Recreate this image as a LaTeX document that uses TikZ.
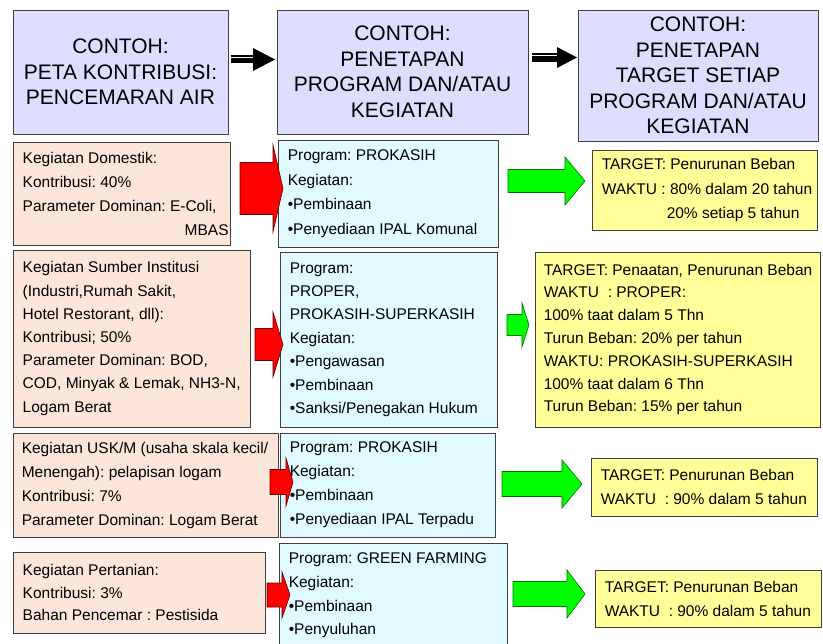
\documentclass[tikz,border=0pt]{standalone}
\usepackage{fontspec}
\setmainfont{Liberation Sans}
\frenchspacing
\definecolor{hdrc}{HTML}{DDDDFF}
\definecolor{pinkc}{HTML}{FCE6DA}
\definecolor{cyanc}{HTML}{E1FAFF}
\definecolor{yelc}{HTML}{FFFF99}
\definecolor{edgec}{HTML}{404040}
\newcommand\barrow[7]{% style, x0, xh, xt, yc, sh, hh
  \draw[#1] (#2,{#5-#6}) -- (#3,{#5-#6}) -- (#3,{#5-#7}) -- (#4,#5) -- (#3,{#5+#7}) -- (#3,{#5+#6}) -- (#2,{#5+#6}) -- cycle;}
\begin{document}
\frenchspacing
\begin{tikzpicture}[x=1pt,y=-1pt,
  box/.style={draw=edgec, line width=0.9pt, inner sep=0pt},
  hdr/.style={box, fill=hdrc, align=center, font={\fontsize{21}{25.5}\selectfont\frenchspacing}},
  pinkbox/.style={box, fill=pinkc},
  cyanbox/.style={box, fill=cyanc},
  yelbox/.style={box, fill=yelc},
  txt/.style={anchor=west, align=left, inner sep=0pt, font={\fontsize{15.5}{24}\selectfont\frenchspacing}},
  redarr/.style={fill=red, draw=black!60!red, line width=0.6pt},
  greenarr/.style={fill=green, draw=black!55!green, line width=0.6pt}]
\useasboundingbox (0,0) rectangle (823,644);
\clip (0,0) rectangle (823,644);
\fill[white] (0,0) rectangle (823,644);

% header row
\node[hdr, minimum width=215pt, minimum height=124pt] (h1) at (120.5,72) {CONTOH:\\PETA KONTRIBUSI:\\PENCEMARAN AIR};
\node[hdr, minimum width=251pt, minimum height=124pt] (h2) at (402.5,72) {CONTOH:\\PENETAPAN\\PROGRAM DAN/ATAU\\KEGIATAN};
\node[hdr, minimum width=240pt, minimum height=131pt] (h3) at (698,75.5) {CONTOH:\\PENETAPAN\\TARGET SETIAP\\PROGRAM DAN/ATAU\\KEGIATAN};

% black header arrows
\fill[black] (231,55) rectangle (254,63.5);
\fill[black] (253,48) -- (275,59.5) -- (253,71) -- cycle;
\draw[white, line width=0.8pt] (231,57.3) -- (253,57.3);
\fill[black] (532,53) rectangle (558,62);
\fill[black] (557,47) -- (577,57.5) -- (557,68) -- cycle;
\draw[white, line width=0.8pt] (532,55.3) -- (557,55.3);

% row 1
\node[pinkbox, minimum width=217pt, minimum height=103pt] (p1) at (121.5,193.5) {};
\node[txt] (p1t) at ([xshift=10pt]p1.west) {Kegiatan Domestik:\\Kontribusi: 40\%\\Parameter Dominan: E-Coli,\\\hspace*{162pt}MBAS};
\node[cyanbox, minimum width=220pt, minimum height=107pt] (c1) at (388,193.5) {};
\node[txt, font={\fontsize{15.5}{24.5}\selectfont\frenchspacing}] (c1t) at ([xshift=10pt]c1.west) {Program: PROKASIH\\Kegiatan:\\•Pembinaan\\•Penyediaan IPAL Komunal};
\node[yelbox, minimum width=225pt, minimum height=80pt] (y1) at (704.5,190) {};
\node[txt, font={\fontsize{15.5}{24.5}\selectfont\frenchspacing}] (y1t) at ([xshift=10pt]y1.west) {TARGET: Penurunan Beban\\WAKTU : 80\% dalam 20 tahun\\\hspace*{65pt}20\% setiap 5 tahun};

% row 2
\node[pinkbox, minimum width=237pt, minimum height=177pt] (p2) at (131.5,338.5) {};
\node[txt, font={\fontsize{15.5}{23.2}\selectfont\frenchspacing}] (p2t) at ([xshift=10pt]p2.west) {Kegiatan Sumber Institusi\\(Industri,Rumah Sakit,\\Hotel Restorant, dll):\\Kontribusi; 50\%\\Parameter Dominan: BOD,\\COD, Minyak \& Lemak, NH3-N,\\Logam Berat};
\node[cyanbox, minimum width=217pt, minimum height=175pt] (c2) at (388.5,339.5) {};
\node[txt, font={\fontsize{15.5}{23.4}\selectfont\frenchspacing}] (c2t) at ([xshift=10pt]c2.west) {Program:\\PROPER,\\PROKASIH-SUPERKASIH\\Kegiatan:\\•Pengawasan\\•Pembinaan\\•Sanksi/Penegakan Hukum};
\node[yelbox, minimum width=285pt, minimum height=175pt] (y2) at (677.5,339.5) {};
\node[txt, font={\fontsize{15.5}{22.8}\selectfont\frenchspacing}] (y2t) at ([xshift=9pt]y2.west) {TARGET: Penaatan, Penurunan Beban\\WAKTU~~: PROPER:\\100\% taat dalam 5 Thn\\Turun Beban: 20\% per tahun\\WAKTU: PROKASIH-SUPERKASIH\\100\% taat dalam 6 Thn\\Turun Beban: 15\% per tahun};

% row 3
\node[pinkbox, minimum width=265pt, minimum height=104pt] (p3) at (145.5,485) {};
\node[txt] (p3t) at ([xshift=9pt]p3.west) {Kegiatan USK/M (usaha skala kecil/\\Menengah): pelapisan logam\\Kontribusi: 7\%\\Parameter Dominan: Logam Berat};
\node[cyanbox, minimum width=215pt, minimum height=104pt] (c3) at (387.5,485) {};
\node[txt] (c3t) at ([xshift=10pt]c3.west) {Program: PROKASIH\\Kegiatan:\\•Pembinaan\\•Penyediaan IPAL Terpadu};
\node[yelbox, minimum width=226pt, minimum height=58pt] (y3) at (704,487) {};
\node[txt] (y3t) at ([xshift=10pt]y3.west) {TARGET: Penurunan Beban\\WAKTU~~: 90\% dalam 5 tahun};

% row 4
\node[pinkbox, minimum width=252pt, minimum height=81pt] (p4) at (139,592.5) {};
\node[txt, font={\fontsize{15.5}{22.8}\selectfont\frenchspacing}] (p4t) at ([xshift=10pt]p4.west) {Kegiatan Pertanian:\\Kontribusi: 3\%\\Bahan Pencemar : Pestisida};
\node[cyanbox, minimum width=228pt, minimum height=105pt] (c4) at (393,595.5) {};
\node[txt, font={\fontsize{15.5}{23.6}\selectfont\frenchspacing}] (c4t) at ([xshift=10pt]c4.west) {Program: GREEN FARMING\\Kegiatan:\\•Pembinaan\\•Penyuluhan};
\node[yelbox, minimum width=226pt, minimum height=57pt] (y4) at (708,598.5) {};
\node[txt] (y4t) at ([xshift=10pt]y4.west) {TARGET: Penurunan Beban\\WAKTU~~: 90\% dalam 5 tahun};

% red arrows
\barrow{redarr}{240}{273}{283}{188.5}{26}{43.5}
\barrow{redarr}{255}{273}{283}{344.5}{16}{32.5}
\barrow{redarr}{270}{286}{293}{482}{12.5}{24}
\barrow{redarr}{267}{282}{290}{595}{12}{23}
% green arrows
\barrow{greenarr}{508}{565}{585}{181}{11.5}{24}
\barrow{greenarr}{507}{522}{529}{325}{10.5}{22}
\barrow{greenarr}{502}{562}{582}{484}{12.5}{24}
\barrow{greenarr}{513}{567}{585}{594}{12.5}{24}
\end{tikzpicture}
\end{document}
